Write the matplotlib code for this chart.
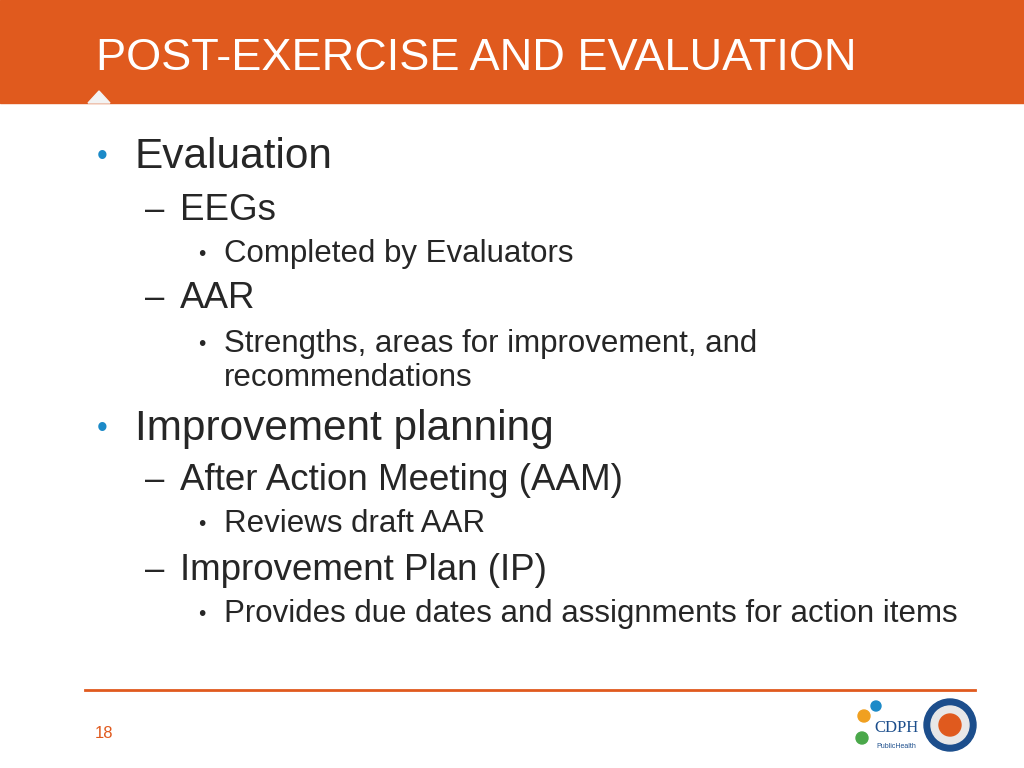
import matplotlib.pyplot as plt
import matplotlib.patches as mpatches

plt.rcParams["font.family"] = "Liberation Sans"

title = "POST-EXERCISE AND EVALUATION"
# (level, text, y pixel of text center)
lines = [
    (1, "Evaluation", 157),
    (2, "EEGs", 210),
    (3, "Completed by Evaluators", 254),
    (2, "AAR", 299),
    (3, "Strengths, areas for improvement, and", 344),
    (0, "recommendations", 378),
    (1, "Improvement planning", 429),
    (2, "After Action Meeting (AAM)", 481),
    (3, "Reviews draft AAR", 524),
    (2, "Improvement Plan (IP)", 571),
    (3, "Provides due dates and assignments for action items", 614),
]
page_number = "18"

ORANGE = "#E05A1E"
TEXT = "#262626"
fig = plt.figure(figsize=(10.24, 7.68), dpi=100)
ax = fig.add_axes([0, 0, 1, 1])
ax.set_xlim(0, 1024)
ax.set_ylim(768, 0)
ax.axis("off")

ax.add_patch(mpatches.Rectangle((0, 0), 1024, 103, color=ORANGE))
ax.add_patch(mpatches.Polygon([(88, 103), (99, 91), (110, 103)], color="#f3f3f3"))
ax.text(96, 59, title, color="white", fontsize=32.5, va="center", ha="left")

for level, text, y in lines:
    if level == 1:
        ax.text(97, y, "•", color="#1C8AC8", fontsize=22, va="center")
        ax.text(135, y, text, color=TEXT, fontsize=30.5, va="center")
    elif level == 2:
        ax.text(145, y, "–", color=TEXT, fontsize=25, va="center")
        ax.text(180, y, text, color=TEXT, fontsize=26.5, va="center")
    elif level == 3:
        ax.text(198, y, "•", color=TEXT, fontsize=15, va="center")
        ax.text(224, y, text, color=TEXT, fontsize=22.5, va="center")
    else:
        ax.text(224, y, text, color=TEXT, fontsize=22.5, va="center")

ax.plot([85, 975], [690, 690], color=ORANGE, lw=2)
ax.text(95, 733, page_number, color=ORANGE, fontsize=12, va="center")

# logos (approximate)
ax.text(874, 728, "CDPH", color="#1C4E8C", fontsize=12, va="center", family="Liberation Serif")
ax.text(876, 746, "PublicHealth", color="#1C4E8C", fontsize=5, va="center")
ax.add_patch(mpatches.Circle((864, 716), 6, color="#F0A020"))
ax.add_patch(mpatches.Circle((876, 706), 5, color="#1C8AC8"))
ax.add_patch(mpatches.Circle((862, 738), 6, color="#4AA84A"))
ax.add_patch(mpatches.Circle((950, 725), 26, color="#1C4E8C"))
ax.add_patch(mpatches.Circle((950, 725), 19, color="#E8E8E8"))
ax.add_patch(mpatches.Circle((950, 725), 11, color="#E05A1E"))

fig.savefig("out.png", dpi=100)
